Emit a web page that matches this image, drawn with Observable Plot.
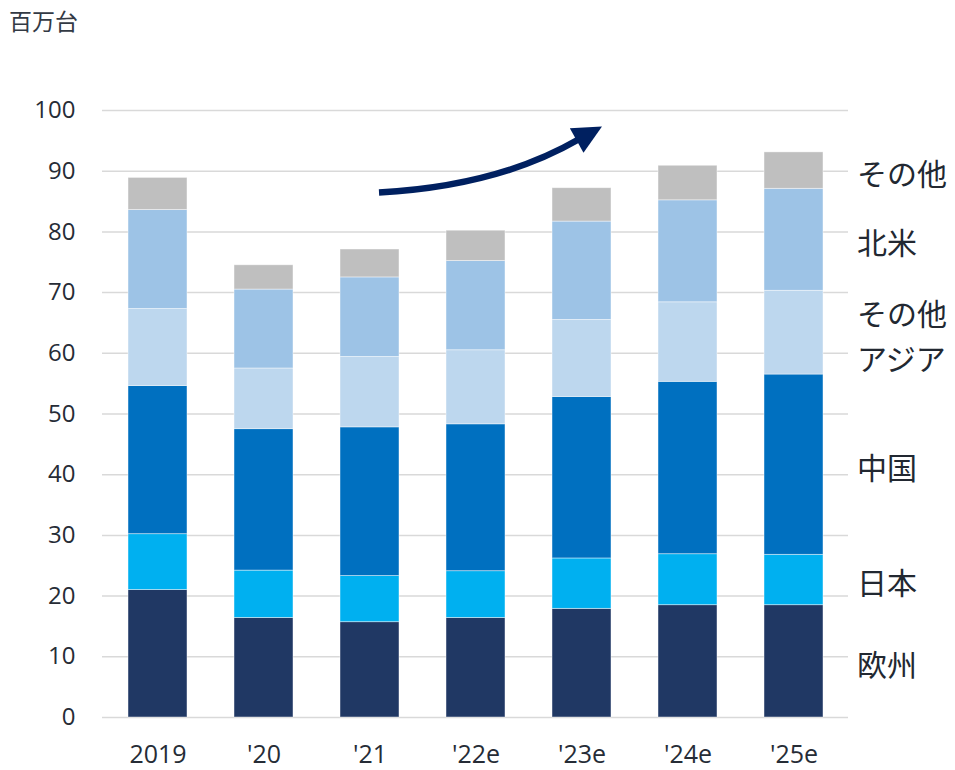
<!DOCTYPE html>
<html>
<head>
<meta charset="utf-8">
<script src="https://cdn.jsdelivr.net/npm/d3@7"></script>
<script src="https://cdn.jsdelivr.net/npm/@observablehq/plot@0.6"></script>
<style>
  body { margin: 0; background: #fff; }
  #wrap { position: relative; width: 955px; height: 770px; }
  #unit { position: absolute; left: 9px; top: 3px; font-size: 23px; color: #333a44; font-family: "Noto Sans CJK JP", sans-serif; }
</style>
</head>
<body>
<div id="wrap"><div id="unit">百万台</div></div>
<script>
const years = ["2019", "'20", "'21", "'22e", "'23e", "'24e", "'25e"];
const series = ["欧州", "日本", "中国", "その他アジア", "北米", "その他"];
const seriesLabels = ["欧州", "日本", "中国", "その他\nアジア", "北米", "その他"];
const europe   = [21.0, 16.4, 15.7, 16.4, 17.9, 18.5, 18.5];
const japan    = [9.2, 7.8, 7.6, 7.7, 8.3, 8.4, 8.3];
const china    = [24.4, 23.3, 24.5, 24.2, 26.6, 28.4, 29.7];
const otherAsia = [12.7, 10.0, 11.6, 12.2, 12.7, 13.1, 13.8];
const northAmerica = [16.3, 13.0, 13.1, 14.7, 16.2, 16.8, 16.8];
const other    = [5.3, 4.0, 4.6, 5.0, 5.5, 5.7, 6.0];
const colors = ["#203864", "#00B0F0", "#0070C0", "#BDD7EE", "#9DC3E6", "#BFBFBF"];
const yTicks = [0, 10, 20, 30, 40, 50, 60, 70, 80, 90, 100];
// growth arrow annotation: start and tip (category + value)
const arrowFrom = {year: "'21", value: 86.4};
const arrowTo = {year: "'23e", value: 97.3};

const valuesBySeries = [europe, japan, china, otherAsia, northAmerica, other];
const rows = [];
series.forEach((s, i) => years.forEach((y, j) => rows.push({year: y, region: s, value: valuesBySeries[i][j]})));

const last = years.length - 1;
let cum = 0;
const labels = series.map((s, i) => {
  const v = valuesBySeries[i][last];
  const mid = cum + v / 2;
  cum += v;
  return {year: years[last], y: mid, text: seriesLabels[i]};
});

const font = "'Segoe UI', 'Open Sans', 'Noto Sans CJK JP', sans-serif";
const plot = Plot.plot({
  width: 955,
  height: 770,
  marginLeft: 102,
  marginRight: 107,
  marginTop: 110,
  marginBottom: 53,
  style: {fontFamily: font, background: "#fff"},
  x: {domain: years, paddingInner: 0.447, paddingOuter: 0.2235, label: null, axis: null},
  y: {domain: [0, 100], label: null, axis: null},
  color: {domain: series, range: colors},
  marks: [
    Plot.ruleY(yTicks, {stroke: "#d9d9d9", strokeWidth: 1.5}),
    Plot.axisY({ticks: yTicks, tickSize: 0, tickPadding: 27, fontSize: 24, fill: "#262c36", label: null}),
    Plot.axisX({tickSize: 0, tickPadding: 28, fontSize: 25, fill: "#262c36", label: null}),
    Plot.barY(rows, {x: "year", y: "value", fill: "region", order: series, stroke: "#ffffff", strokeWidth: 0.8, strokeOpacity: 0.55}),
    Plot.text(labels, {x: "year", y: "y", text: "text", dx: 63, textAnchor: "start", fontSize: 30, lineHeight: 1.5, fill: "#222831", fontFamily: "'Noto Sans CJK JP', sans-serif"})
  ]
});
document.getElementById("wrap").prepend(plot);

// arrow drawn with the plot's own scales
const xs = plot.scale("x"), ys = plot.scale("y");
const bw = xs.bandwidth;
const xScale = v => xs.apply(v) + bw / 2;
const x0 = xScale(arrowFrom.year) + 9.5, y0 = ys.apply(arrowFrom.value);
const tx = xScale(arrowTo.year) + 20.5, ty = ys.apply(arrowTo.value);
const dirx = 26, diry = -14.5, dl = Math.hypot(dirx, diry);
const ux = dirx / dl, uy = diry / dl;
const headLen = 29, headHalf = 14;
const bx = tx - ux * headLen, by = ty - uy * headLen;
const cx = 498, cy = 186;
const svg = d3.select(plot.tagName === "svg" ? plot : plot.querySelector("svg"));
const g = svg.append("g");
g.append("path")
  .attr("d", `M${x0},${y0} Q${cx},${cy} ${bx + ux * 2},${by + uy * 2}`)
  .attr("fill", "none").attr("stroke", "#002060").attr("stroke-width", 6.5);
g.append("path")
  .attr("d", `M${tx},${ty} L${bx - uy * headHalf},${by + ux * headHalf} L${bx + uy * headHalf},${by - ux * headHalf} Z`)
  .attr("fill", "#002060");
</script>
</body>
</html>
